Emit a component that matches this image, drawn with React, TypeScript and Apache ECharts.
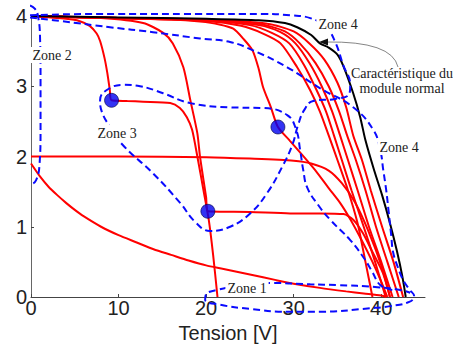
import React, { useEffect, useRef } from "react";
import * as echarts from "echarts";

// I-V curves (Tension [V], Courant)
const curveLow = [[0,1.9],[1,1.72],[2,1.57],[3,1.45],[4,1.34],[5,1.24],[6,1.15],[8,1.0],[10,0.88],[12,0.78],[14,0.68],[16,0.6],[18,0.52],[20,0.45],[22,0.4],[25,0.32],[28,0.24],[30,0.19],[33,0.13],[36,0.08],[38,0.05],[40,0.02],[40.6,0]];
const curveTwo = [[0,2.0],[10,2.0],[20,1.99],[25,1.97],[30,1.94],[32,1.9],[34,1.8],[35.5,1.62],[37,1.35],[38.5,0.95],[40,0.45],[41,0]];
const curveA = [[0,4.0],[4,3.96],[5.5,3.93],[6.7,3.86],[7.5,3.75],[7.9,3.64],[8.4,3.4],[8.7,3.2],[9.0,2.95],[9.2,2.8],[11,2.79],[12.8,2.78],[15.9,2.76],[17,2.69],[17.8,2.56],[18.4,2.38],[19,2.0],[19.7,1.52],[20.3,1.1],[20.8,0.6],[21.3,0]];
const curveB = [[0,4.0],[8,3.97],[12.8,3.9],[15.1,3.76],[16.2,3.61],[17.4,3.27],[18.2,2.8],[19,2.33],[19.3,2.0],[20,1.42],[20.2,1.22],[25,1.21],[29.6,1.19],[33,1.19],[35.7,1.18],[36.8,1.1],[37.9,0.91],[39,0.64],[40.2,0.34],[41,0]];
const curveC = [[0,4.0],[10,3.97],[16,3.95],[19.3,3.92],[21.5,3.88],[23.1,3.82],[24.3,3.67],[25.3,3.51],[26,3.25],[26.5,2.99],[27.4,2.7],[28.2,2.42],[29.6,2.22],[31,2.02],[32.5,1.8],[34,1.55],[35.3,1.34],[36.5,1.1],[37.8,0.8],[39,0.5],[40,0.22],[40.7,0]];
const bundle1 = [[0,4.0],[10,3.97],[20,3.93],[24,3.86],[26.5,3.75],[28.5,3.61],[30.4,3.27],[31.9,2.94],[33,2.64],[34,2.3],[35,1.95],[36.2,1.52],[37.3,1.05],[38.2,0.5],[39,0]];
const bundle2 = [[0,4.0],[10,3.97],[20,3.94],[25,3.87],[27.5,3.76],[29.5,3.61],[31.2,3.3],[32.6,2.95],[33.7,2.64],[34.6,2.3],[35.5,1.95],[36.6,1.52],[38,1.0],[39.3,0.5],[40.5,0]];
const bundle3 = [[0,4.0],[10,3.97],[20,3.94],[26,3.87],[28.5,3.77],[30.2,3.61],[31.8,3.33],[33.2,3.0],[34.4,2.64],[35.3,2.3],[36.2,1.95],[37.3,1.52],[38.6,1.0],[40,0.5],[41.3,0]];
const bundle4 = [[0,4.0],[10,3.97],[20,3.95],[26,3.89],[29,3.78],[30.7,3.61],[32.5,3.33],[34,3.0],[35.2,2.64],[36.1,2.3],[37.1,1.95],[38.2,1.52],[39.4,1.0],[40.7,0.5],[42,0]];
const bundle5 = [[0,4.0],[10,3.97],[20,3.95],[27,3.89],[30,3.78],[31.8,3.61],[33.5,3.38],[35,3.05],[36,2.7],[36.8,2.3],[37.8,1.95],[38.8,1.52],[40.1,1.0],[41.4,0.5],[42.5,0]];
const normalCurve = [[0,4.0],[10,3.98],[20,3.96],[26,3.94],[29,3.9],[30.4,3.84],[32,3.73],[33,3.61],[34,3.55],[35,3.45],[35.7,3.28],[36.8,2.9],[37.6,2.56],[38.2,2.23],[39.2,1.8],[40.1,1.45],[41,1.05],[41.8,0.65],[42.4,0.3],[42.8,0]];
const maxPoints = [[9.2,2.8],[20.2,1.22],[28.2,2.42]];

// Zone outlines (data units)
const zone2 = [[-0.11,4.15],[0.46,4.1],[0.8,4.0],[1.03,3.7],[1.09,3.09],[1.09,2.38],[0.97,1.88],[0.57,1.66],[0,1.61],[-0.57,1.69],[-0.91,1.95],[-1.03,2.66],[-1.03,3.37],[-0.8,3.87],[-0.46,4.08],[-0.11,4.15]];
const zoneOuter = [[-0.11,4.01],[7.89,4.03],[19.31,4.03],[26.51,4.03],[29.6,4.01],[31.89,3.97],[33.71,3.84],[34.74,3.63],[35.66,3.3],[36.46,3.02],[36.34,2.89],[34.74,2.82],[32.23,2.79],[31.2,2.66],[30.51,2.45],[29.83,2.16],[28.8,1.88],[26.97,1.48],[25.03,1.19],[22.74,1.0],[20.46,0.94],[18.74,1.07],[17.03,1.34],[13.94,1.76],[10.51,2.16],[9.03,2.42],[8.11,2.63],[7.89,2.8],[8.57,2.94],[10.51,3.02],[12.46,3.0],[15.09,2.9],[18.17,2.76],[22.74,2.7],[26.51,2.69],[29.26,2.59],[30.29,2.38],[30.74,2.09],[31.09,1.81],[31.54,1.56],[32.8,1.31],[34.17,1.1],[36.46,0.81],[37.94,0.57],[38.97,0.36],[39.89,0.17],[41.26,0.1]];
const zoneInner = [[-0.11,3.98],[3.31,3.93],[9.03,3.84],[13.94,3.77],[19.31,3.68],[22.74,3.63],[25.37,3.51],[29.26,3.27],[33.03,2.97],[36.8,2.7],[39.09,2.38],[39.89,2.09],[40.23,1.81],[40.57,1.52],[40.8,1.27],[41.14,0.88],[41.37,0.63],[41.94,0.41],[42.51,0.24],[43.2,0.11],[43.77,0.01],[43.2,-0.07],[41.03,-0.13],[38.74,-0.16],[33.03,-0.21],[29.26,-0.21],[25.03,-0.17],[21.6,-0.11],[19.89,-0.04],[20.0,0.04],[21.26,0.1],[23.89,0.16],[27.66,0.2],[31.89,0.18],[34.97,0.17],[39.54,0.14],[42.17,0.1],[43.31,0.06]];

const redCurves = [curveLow, curveTwo, curveA, curveB, curveC, bundle1, bundle2, bundle3, bundle4, bundle5];
const zones = [zone2, zoneOuter, zoneInner];

const serif = "'Liberation Serif', 'Times New Roman', serif";
const sans = "'Liberation Sans', Arial, sans-serif";

export default function App() {
  const ref = useRef<HTMLDivElement>(null);
  useEffect(() => {
    const chart = echarts.init(ref.current!, null, { renderer: "svg" });
    const series: any[] = [];
    redCurves.forEach((d) =>
      series.push({
        type: "line", data: d, symbol: "none", smooth: 0.25, silent: true, z: 2,
        lineStyle: { color: "#ff0000", width: 2 },
      })
    );
    series.push({
      type: "line", data: normalCurve, symbol: "none", smooth: 0.25, silent: true, z: 3,
      lineStyle: { color: "#000000", width: 2 },
    });
    zones.forEach((d) =>
      series.push({
        type: "line", data: d, symbol: "none", smooth: 0.45, silent: true, z: 4, clip: false,
        lineStyle: { color: "#0a0aff", width: 2, type: [7, 4] },
      })
    );
    series.push({
      type: "scatter", data: maxPoints, symbol: "circle", symbolSize: 14, z: 6, silent: true,
      itemStyle: { color: "#0000f0", borderColor: "#000040", borderWidth: 0.8 },
    });

    const label = (text: string, x: number, y: number, bg: boolean) => ({
      type: "text", x, y, z: 100,
      style: {
        text, fill: "#222", font: `14px ${serif}`, align: "center", verticalAlign: "middle",
        backgroundColor: bg ? "#ffffff" : undefined, padding: bg ? [1, 2] : 0,
      },
    });

    chart.setOption({
      animation: false,
      backgroundColor: "#ffffff",
      grid: { left: 31, right: 28, top: 16, bottom: 52, containLabel: false, outerBoundsMode: "none" },
      xAxis: {
        type: "value", min: 0, max: 45, interval: 10,
        axisLine: { show: true, lineStyle: { color: "#444", width: 1 } },
        axisTick: { show: true, inside: true, length: 3, lineStyle: { color: "#444" } },
        axisLabel: { fontFamily: sans, fontSize: 20, color: "#222", margin: 1, showMaxLabel: false },
        splitLine: { show: false },
        name: "Tension [V]", nameLocation: "middle", nameGap: 26,
        nameTextStyle: { fontFamily: sans, fontSize: 20, color: "#222" },
      },
      yAxis: {
        type: "value", min: 0, max: 4, interval: 1,
        axisLine: { show: true, lineStyle: { color: "#666", width: 1 } },
        axisTick: { show: true, inside: true, length: 3, lineStyle: { color: "#444" } },
        axisLabel: { fontFamily: sans, fontSize: 20, color: "#222", margin: 4 },
        splitLine: { show: false },
      },
      series,
      graphic: [
        label("Zone 2", 52, 55, true),
        label("Zone 3", 117, 133, true),
        label("Zone 4", 338, 24, true),
        label("Zone 4", 399, 147, true),
        label("Zone 1", 247, 288, true),
        label("Caractéristique du", 402, 73, false),
        label("module normal", 402, 88, false),
        {
          type: "bezierCurve", z: 90,
          shape: { x1: 398, y1: 67, x2: 326, y2: 42, cpx1: 392, cpy1: 41 },
          style: { stroke: "#666", lineWidth: 0.8, fill: "none" },
        },
        {
          type: "polygon", z: 91,
          shape: { points: [[319, 42], [328, 38.5], [328, 45.5]] },
          style: { fill: "#111" },
        },
      ],
    });
    return () => chart.dispose();
  }, []);
  return (
    <div
      ref={ref}
      style={{ position: "fixed", left: 0, top: 0, width: 453, height: 349, background: "#fff" }}
    />
  );
}
